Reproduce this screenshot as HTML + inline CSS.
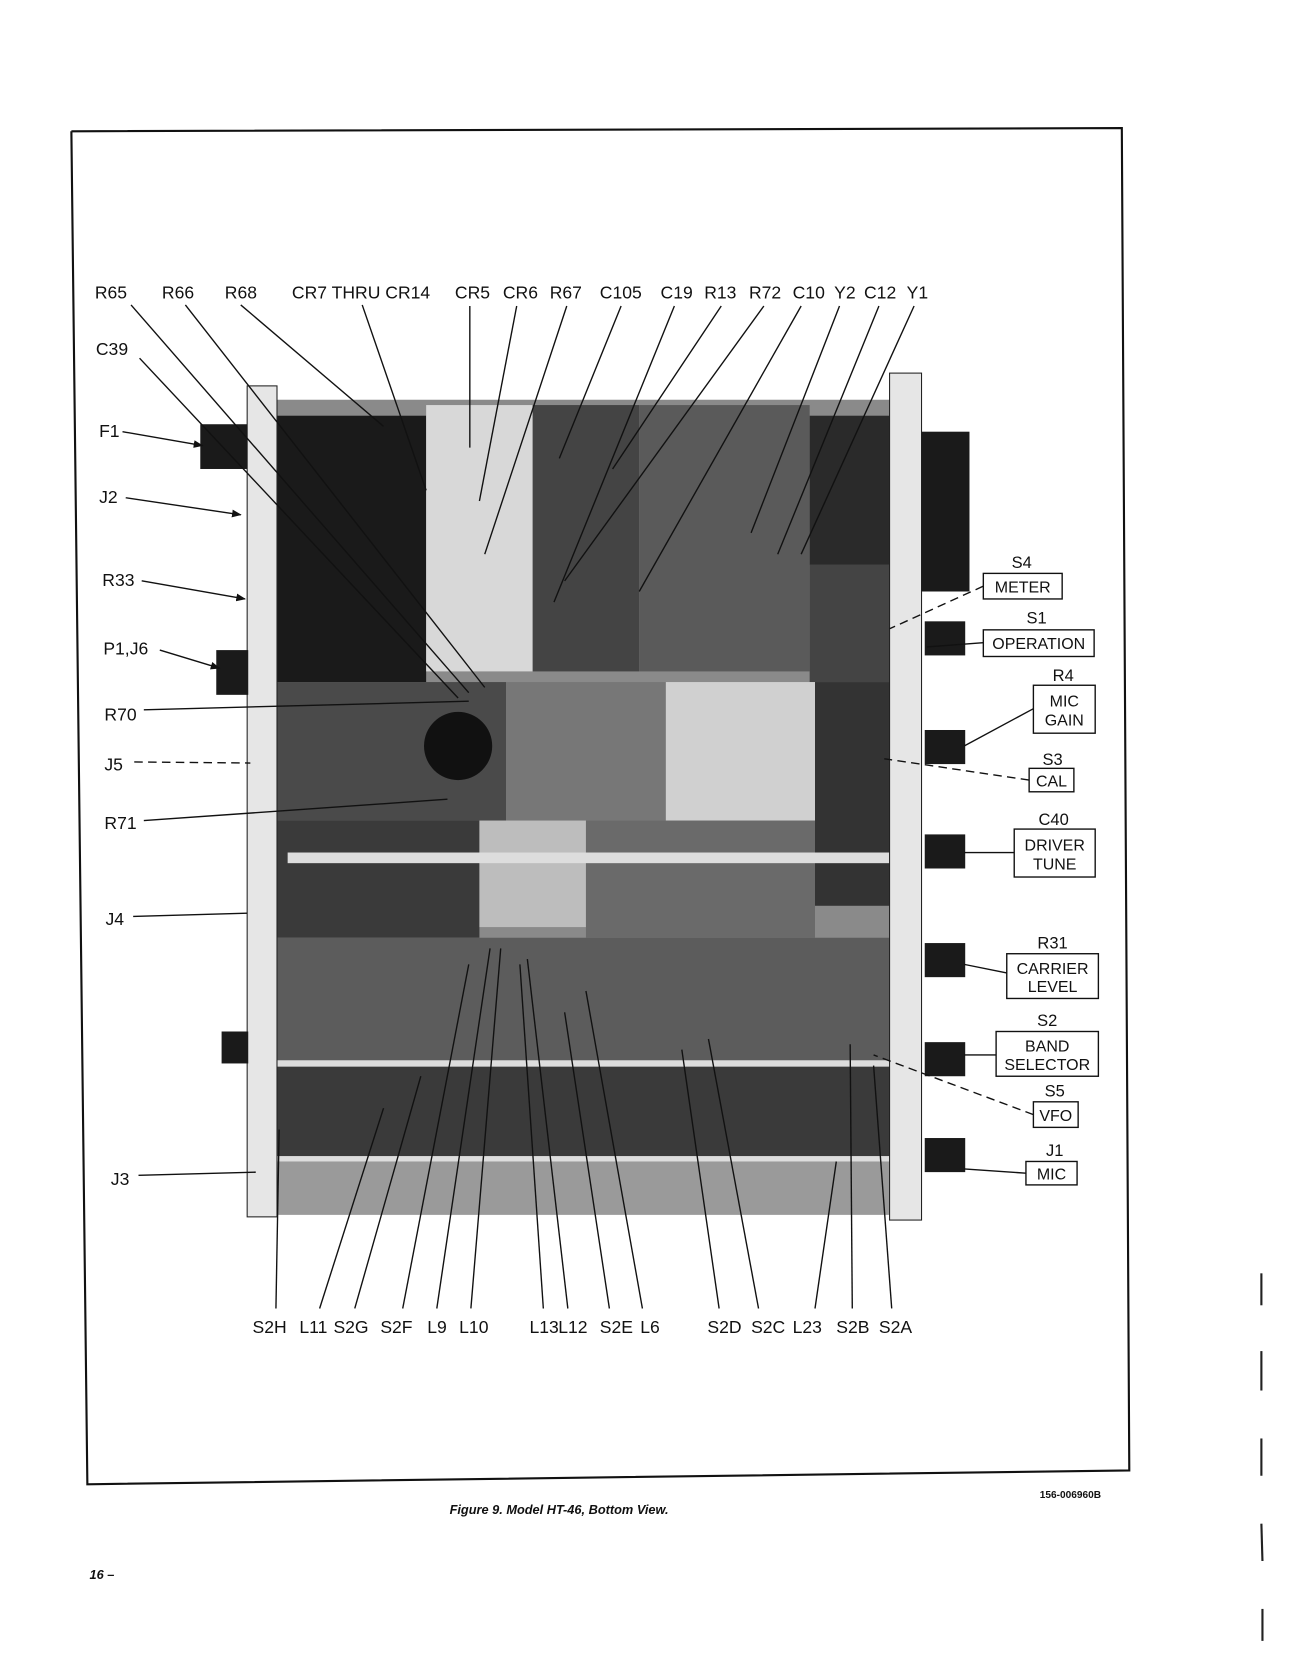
<!DOCTYPE html>
<html><head><meta charset="utf-8"><style>
html,body{margin:0;padding:0;background:#fff}
svg{display:block}
text{font-family:"Liberation Sans",sans-serif;fill:#111}
</style></head><body>
<svg width="1304" height="1672" viewBox="0 0 1224 1569" xmlns="http://www.w3.org/2000/svg">
<defs><marker id="a" viewBox="0 0 10 10" refX="9" refY="5" markerWidth="7" markerHeight="7" orient="auto"><path d="M0,1 L10,5 L0,9 z" fill="#111"/></marker></defs>
<rect width="1224" height="1569" fill="#fff"/>
<polyline points="67,123 1053,120 1060,1380 82,1393 67,123" fill="none" stroke="#111" stroke-width="2"/>
<g>
<rect x="255" y="375" width="590" height="765" fill="#8a8a8a"/>
<rect x="255" y="390" width="145" height="250" fill="#1a1a1a"/>
<rect x="400" y="380" width="100" height="250" fill="#d8d8d8"/>
<rect x="500" y="380" width="100" height="250" fill="#444"/>
<rect x="600" y="380" width="160" height="250" fill="#5a5a5a"/>
<rect x="760" y="390" width="75" height="140" fill="#2a2a2a"/>
<rect x="760" y="530" width="75" height="110" fill="#444"/>
<rect x="255" y="640" width="220" height="130" fill="#4a4a4a"/>
<circle cx="430" cy="700" r="32" fill="#111"/>
<rect x="475" y="640" width="150" height="130" fill="#777"/>
<rect x="625" y="640" width="140" height="130" fill="#d0d0d0"/>
<rect x="765" y="640" width="70" height="210" fill="#333"/>
<rect x="255" y="770" width="195" height="110" fill="#3a3a3a"/>
<rect x="450" y="770" width="100" height="100" fill="#bdbdbd"/>
<rect x="550" y="770" width="215" height="110" fill="#6a6a6a"/>
<rect x="255" y="880" width="590" height="115" fill="#5c5c5c"/>
<rect x="255" y="995" width="590" height="90" fill="#3a3a3a"/>
<rect x="255" y="1085" width="590" height="55" fill="#9a9a9a"/>
<rect x="270" y="800" width="570" height="10" fill="#ddd"/>
<rect x="255" y="995" width="590" height="6" fill="#ddd"/>
<rect x="255" y="1085" width="590" height="5" fill="#ddd"/>
<rect x="232" y="362" width="28" height="780" fill="#e6e6e6" stroke="#222"/>
<rect x="835" y="350" width="30" height="795" fill="#e6e6e6" stroke="#222"/>
<rect x="865" y="405" width="45" height="150" fill="#1a1a1a"/>
<g fill="#1a1a1a">
<rect x="868" y="583" width="38" height="32"/><rect x="868" y="685" width="38" height="32"/>
<rect x="868" y="783" width="38" height="32"/><rect x="868" y="885" width="38" height="32"/>
<rect x="868" y="978" width="38" height="32"/><rect x="868" y="1068" width="38" height="32"/>
<rect x="188" y="398" width="44" height="42"/><rect x="203" y="610" width="30" height="42"/>
<rect x="208" y="968" width="25" height="30"/>
</g>
</g>
<g stroke="#111" stroke-width="1.3" fill="none">
<line x1="123" y1="286" x2="440" y2="650"/>
<line x1="174" y1="286" x2="455" y2="645"/>
<line x1="131" y1="336" x2="430" y2="655"/>
<line x1="226" y1="286" x2="360" y2="400"/>
<line x1="340" y1="286" x2="400" y2="460"/>
<line x1="441" y1="287" x2="441" y2="420"/>
<line x1="485" y1="287" x2="450" y2="470"/>
<line x1="532" y1="287" x2="455" y2="520"/>
<line x1="583" y1="287" x2="525" y2="430"/>
<line x1="633" y1="287" x2="520" y2="565"/>
<line x1="677" y1="287" x2="575" y2="440"/>
<line x1="717" y1="287" x2="530" y2="545"/>
<line x1="752" y1="287" x2="600" y2="555"/>
<line x1="788" y1="287" x2="705" y2="500"/>
<line x1="825" y1="287" x2="730" y2="520"/>
<line x1="858" y1="287" x2="752" y2="520"/>
<line x1="115" y1="405" x2="190" y2="418" marker-end="url(#a)"/>
<line x1="118" y1="467" x2="226" y2="483" marker-end="url(#a)"/>
<line x1="133" y1="545" x2="230" y2="562" marker-end="url(#a)"/>
<line x1="150" y1="610" x2="206" y2="627" marker-end="url(#a)"/>
<line x1="135" y1="666" x2="440" y2="658"/>
<line x1="135" y1="770" x2="420" y2="750"/>
<line x1="125" y1="860" x2="232" y2="857"/>
<line x1="130" y1="1103" x2="240" y2="1100"/>
<line x1="126" y1="715" x2="235" y2="716" stroke-dasharray="8,5"/>
<line x1="923" y1="550" x2="835" y2="590" stroke-dasharray="8,5"/>
<line x1="923" y1="603" x2="870" y2="607"/>
<line x1="970" y1="665" x2="905" y2="700"/>
<line x1="966" y1="732" x2="830" y2="712" stroke-dasharray="8,5"/>
<line x1="952" y1="800" x2="905" y2="800"/>
<line x1="945" y1="913" x2="905" y2="905"/>
<line x1="935" y1="990" x2="905" y2="990"/>
<line x1="970" y1="1046" x2="820" y2="990" stroke-dasharray="8,5"/>
<line x1="963" y1="1101" x2="905" y2="1097"/>
<line x1="259" y1="1228" x2="262" y2="1060"/>
<line x1="300" y1="1228" x2="360" y2="1040"/>
<line x1="333" y1="1228" x2="395" y2="1010"/>
<line x1="378" y1="1228" x2="440" y2="905"/>
<line x1="410" y1="1228" x2="460" y2="890"/>
<line x1="442" y1="1228" x2="470" y2="890"/>
<line x1="510" y1="1228" x2="488" y2="905"/>
<line x1="533" y1="1228" x2="495" y2="900"/>
<line x1="572" y1="1228" x2="530" y2="950"/>
<line x1="603" y1="1228" x2="550" y2="930"/>
<line x1="675" y1="1228" x2="640" y2="985"/>
<line x1="712" y1="1228" x2="665" y2="975"/>
<line x1="765" y1="1228" x2="785" y2="1090"/>
<line x1="800" y1="1228" x2="798" y2="980"/>
<line x1="837" y1="1228" x2="820" y2="1000"/>
</g>
<g font-size="16.5">
<text x="89" y="280">R65</text><text x="152" y="280">R66</text><text x="211" y="280">R68</text>
<text x="274" y="280">CR7 THRU CR14</text><text x="427" y="280">CR5</text><text x="472" y="280">CR6</text>
<text x="516" y="280">R67</text><text x="563" y="280">C105</text><text x="620" y="280">C19</text>
<text x="661" y="280">R13</text><text x="703" y="280">R72</text><text x="744" y="280">C10</text>
<text x="783" y="280">Y2</text><text x="811" y="280">C12</text><text x="851" y="280">Y1</text>
<text x="90" y="333">C39</text><text x="93" y="410">F1</text><text x="93" y="472">J2</text>
<text x="96" y="550">R33</text><text x="97" y="614">P1,J6</text><text x="98" y="676">R70</text>
<text x="98" y="723">J5</text><text x="98" y="778">R71</text><text x="99" y="868">J4</text>
<text x="104" y="1112">J3</text>
<text x="237" y="1251">S2H</text><text x="281" y="1251">L11</text><text x="313" y="1251">S2G</text>
<text x="357" y="1251">S2F</text><text x="401" y="1251">L9</text><text x="431" y="1251">L10</text>
<text x="497" y="1251">L13</text><text x="524" y="1251">L12</text><text x="563" y="1251">S2E</text>
<text x="601" y="1251">L6</text><text x="664" y="1251">S2D</text><text x="705" y="1251">S2C</text>
<text x="744" y="1251">L23</text><text x="785" y="1251">S2B</text><text x="825" y="1251">S2A</text>
</g>
<g font-size="15.5" text-anchor="middle">
<text x="959" y="533">S4</text><text x="973" y="585">S1</text><text x="998" y="639">R4</text>
<text x="988" y="718">S3</text><text x="989" y="774">C40</text><text x="988" y="890">R31</text>
<text x="983" y="963">S2</text><text x="990" y="1029">S5</text><text x="990" y="1085">J1</text>
</g>
<g fill="#fff" stroke="#111" stroke-width="1.3">
<rect x="923" y="538" width="74" height="24"/><rect x="923" y="591" width="104" height="25"/>
<rect x="970" y="643" width="58" height="45"/><rect x="966" y="721" width="42" height="22"/>
<rect x="952" y="778" width="76" height="45"/><rect x="945" y="895" width="86" height="42"/>
<rect x="935" y="968" width="96" height="42"/><rect x="970" y="1034" width="42" height="24"/>
<rect x="963" y="1090" width="48" height="22"/>
</g>
<g font-size="15" text-anchor="middle">
<text x="960" y="556">METER</text><text x="975" y="609">OPERATION</text>
<text x="999" y="663">MIC</text><text x="999" y="681">GAIN</text><text x="987" y="738">CAL</text>
<text x="990" y="798">DRIVER</text><text x="990" y="816">TUNE</text>
<text x="988" y="914">CARRIER</text><text x="988" y="931">LEVEL</text>
<text x="983" y="987">BAND</text><text x="983" y="1004">SELECTOR</text>
<text x="991" y="1052">VFO</text><text x="987" y="1107">MIC</text>
</g>
<text x="422" y="1421" font-size="12" font-weight="bold" font-style="italic">Figure 9.   Model HT-46, Bottom View.</text>
<text x="976" y="1406" font-size="9.5" font-weight="bold">156-006960B</text>
<text x="84" y="1482" font-size="12" font-weight="bold" font-style="italic">16 –</text>
<g stroke="#222" stroke-width="2">
<line x1="1184" y1="1195" x2="1184" y2="1225"/><line x1="1184" y1="1268" x2="1184" y2="1305"/>
<line x1="1184" y1="1350" x2="1184" y2="1385"/><line x1="1184" y1="1430" x2="1185" y2="1465"/>
<line x1="1185" y1="1510" x2="1185" y2="1540"/>
</g>
</svg>
</body></html>
